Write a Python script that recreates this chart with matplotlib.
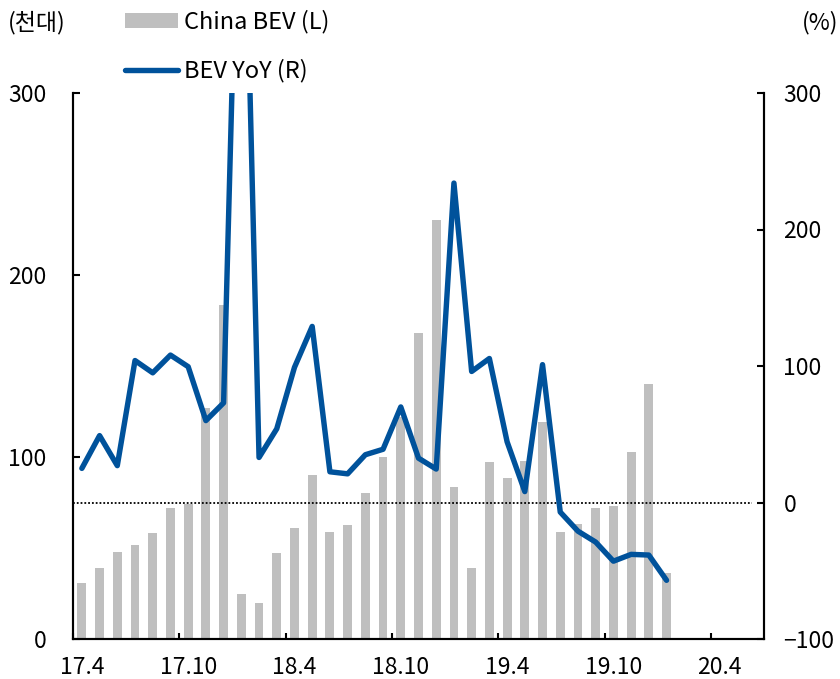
import matplotlib
matplotlib.use("Agg")
import matplotlib.pyplot as plt
from matplotlib.patches import Patch
from matplotlib.lines import Line2D
import numpy as np

plt.rcParams['font.family'] = ['Noto Sans CJK KR', 'DejaVu Sans']
plt.rcParams['axes.unicode_minus'] = True

# Monthly China BEV sales (thousand units), 2017.4 - 2020.1
bev_sales = [31, 39, 48, 51.5, 58.5, 72, 74, 127, 183.5,
             25, 20, 47, 61, 90, 59, 62.5, 80, 100, 122, 168, 230,
             83.5, 39, 97.5, 88.5, 98, 119, 59, 63, 72, 73, 103, 140,
             36.5]
# Year-over-year growth (%)
bev_yoy = [25, 49, 27, 104, 95, 108, 99.5, 60, 73,
           558, 33, 54, 99, 129, 22.5, 21, 35, 39, 70, 32.5, 24.5,
           234, 96, 105.5, 44.5, 8, 101, -7, -21, -29, -43, -38, -38.5,
           -57]

n_months = 39  # axis spans 17.4 .. 20.6
tick_labels = ["17.4", "17.10", "18.4", "18.10", "19.4", "19.10", "20.4"]
left_ticks = [0, 100, 200, 300]
right_ticks = [-100, 0, 100, 200, 300]

BAR = "#BFBFBF"
LINE = "#00529B"
FS = 16.5

fig = plt.figure(figsize=(8.4, 6.79), dpi=100)
ax = fig.add_axes([73 / 840, 1 - 639 / 679, (764 - 73) / 840, (639 - 93) / 679])
ax2 = ax.twinx()

x = np.arange(len(bev_sales))
ax.bar(x, bev_sales, width=0.5, color=BAR, zorder=2)
ax.set_ylim(0, 300)
ax.set_xlim(-0.5, n_months - 0.5)

ax2.plot(np.arange(len(bev_yoy)), bev_yoy, color=LINE, lw=3.9,
         solid_capstyle='round', solid_joinstyle='round', zorder=3)
ax2.axhline(0, xmin=0, xmax=0.983, color="black", lw=1.3,
            linestyle=(0, (1, 1.1)), zorder=2)
ax2.set_ylim(-100, 300)

# category axis: tick marks on month boundaries, labels on month centres
tick_idx = [6 * k for k in range(len(tick_labels))]
ax.set_xticks([i - 0.5 for i in tick_idx])
ax.set_xticklabels([])
ax.set_xticks(tick_idx, minor=True)
ax.set_xticklabels(tick_labels, minor=True)
ax.tick_params(axis='x', which='major', direction='in', length=4.5, width=1.5)
ax.tick_params(axis='x', which='minor', length=0, pad=12, labelsize=FS)

ax.set_yticks(left_ticks)
ax.set_yticklabels([str(v) for v in left_ticks])
ax.tick_params(axis='y', direction='in', length=5, width=1.5, pad=19,
               labelsize=FS)
ax2.set_yticks(right_ticks)
ax2.set_yticklabels([f"{v}".replace("-", "\u2212") for v in right_ticks])
ax2.tick_params(axis='y', direction='in', length=5, width=1.5, pad=14,
                labelsize=FS)

for a in (ax, ax2):
    a.spines['top'].set_visible(False)
    for s in ('left', 'right', 'bottom'):
        a.spines[s].set_linewidth(1.5)

fig.text(8 / 840, 1 - 23 / 679, "(천대)", fontsize=FS, va='center', ha='left')
fig.text(838 / 840, 1 - 23 / 679, "(%)", fontsize=FS, va='center', ha='right')

handles = [Patch(facecolor=BAR, edgecolor='none'),
           Line2D([], [], color=LINE, lw=3.9, solid_capstyle='round')]
fig.legend(handles, ["China BEV (L)", "BEV YoY (R)"], loc='upper left',
           bbox_to_anchor=(125 / 840, 1 - 10 / 679), frameon=False,
           fontsize=17, handlelength=2.25, handleheight=0.6,
           handletextpad=0.25, labelspacing=1.08, borderpad=0,
           borderaxespad=0)

fig.savefig("out.png", dpi=100)
